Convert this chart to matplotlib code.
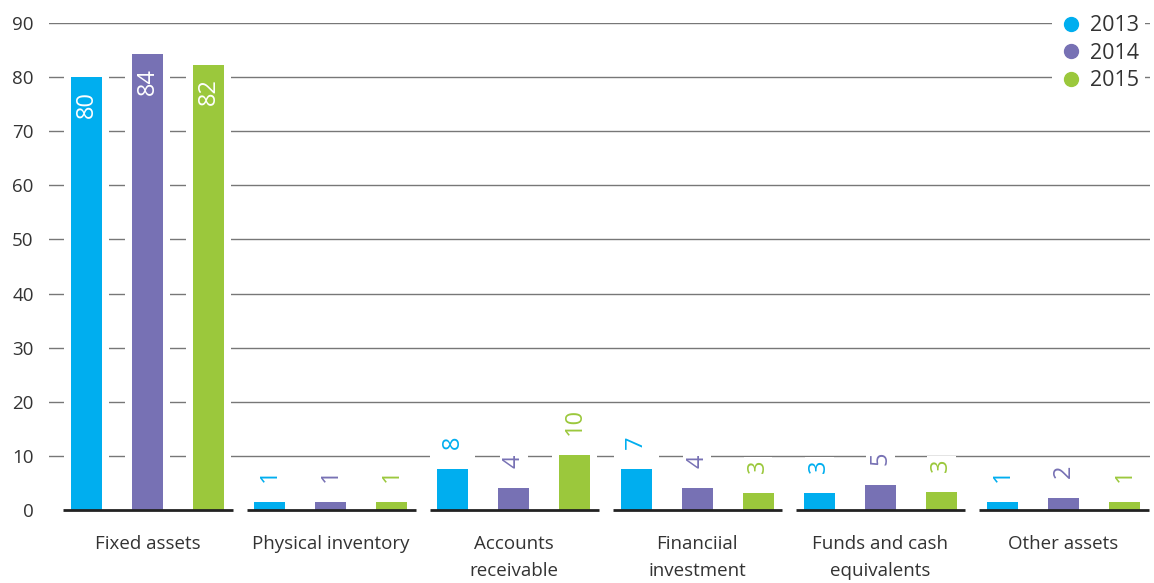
import matplotlib.pyplot as plt
from matplotlib.lines import Line2D

plt.rcParams['font.family'] = ['Open Sans', 'DejaVu Sans']

# data
categories = ["Fixed assets", "Physical inventory", "Accounts\nreceivable",
              "Financiial\ninvestment", "Funds and cash\nequivalents", "Other assets"]
years = ["2013", "2014", "2015"]
values_2013 = [80.0, 1.4, 7.6, 7.6, 3.1, 1.4]
values_2014 = [84.3, 1.4, 4.1, 4.1, 4.6, 2.2]
values_2015 = [82.3, 1.4, 10.2, 3.1, 3.3, 1.4]
labels_2013 = ["80", "1", "8", "7", "3", "1"]
labels_2014 = ["84", "1", "4", "4", "5", "2"]
labels_2015 = ["82", "1", "10", "3", "3", "1"]
yticks = [0, 10, 20, 30, 40, 50, 60, 70, 80, 90]

colors = ["#00aeef", "#7771b4", "#9bc83c"]
text_color = "#333333"

W, H = 1154, 583
fig = plt.figure(figsize=(W / 100, H / 100), dpi=100)
ax = fig.add_axes([49 / W, 73 / H, (1150 - 49) / W, (560 - 73) / H])

unit = 183.2  # px per category
bar_w = 31 / unit
step = 61 / unit
pad_w = 45 / unit
top_pad = 2.6

ax.set_xlim((49 - 147.5) / unit, (1150 - 147.5) / unit)
ax.set_ylim(0, 90)

# gridlines
for y in yticks[1:]:
    ax.axhline(y, color="#777777", lw=1.0, zorder=1)

series = [(values_2013, labels_2013), (values_2014, labels_2014), (values_2015, labels_2015)]
for k, (vals, labs) in enumerate(series):
    xs = [i + (k - 1) * step for i in range(len(categories))]
    # white halo behind each bar cuts the gridlines
    ax.bar(xs, [v + top_pad for v in vals], width=pad_w, color="white", zorder=2)
    ax.bar(xs, vals, width=bar_w, color=colors[k], zorder=3)
    for x, v, t in zip(xs, vals, labs):
        if v > 50:
            ax.annotate(t, (x, v), xytext=(0, -10), textcoords="offset points",
                        rotation=90, ha="center", va="top", color="white",
                        fontsize=17, zorder=5)
        else:
            ax.annotate(t, (x, v), xytext=(0, 14.5), textcoords="offset points",
                        rotation=90, ha="center", va="bottom", color=colors[k],
                        fontsize=17, zorder=5,
                        bbox=dict(boxstyle="square,pad=0.1", fc="white", ec="none"))

# baseline, broken between groups
for i in range(len(categories)):
    ax.plot([i - 0.459, i + 0.464], [0, 0], color="#222222", lw=2, zorder=4,
            solid_capstyle="butt", clip_on=False)

for s in ax.spines.values():
    s.set_visible(False)
ax.set_yticks(yticks)
ax.set_xticks(range(len(categories)))
ax.set_xticklabels(categories, linespacing=1.62)
ax.tick_params(axis="y", length=0, pad=11, labelsize=13.5, labelcolor=text_color)
ax.tick_params(axis="x", length=0, pad=18, labelsize=13.5, labelcolor=text_color)
for t in ax.get_xticklabels():
    t.set_verticalalignment("top")

handles = [Line2D([], [], marker="o", ls="", markersize=10, color=c) for c in colors]
leg = ax.legend(handles, years, loc="upper right", bbox_to_anchor=(1145 / W, 574 / H),
                bbox_transform=fig.transFigure, fontsize=15.5, frameon=True,
                handletextpad=0.25, labelspacing=0.3, borderaxespad=0, borderpad=0.3,
                handlelength=1.2)
leg.get_frame().set_facecolor("white")
leg.get_frame().set_edgecolor("none")
leg.get_frame().set_alpha(1)
leg.set_zorder(6)
for t in leg.get_texts():
    t.set_color(text_color)

fig.savefig("out.png", dpi=100)
